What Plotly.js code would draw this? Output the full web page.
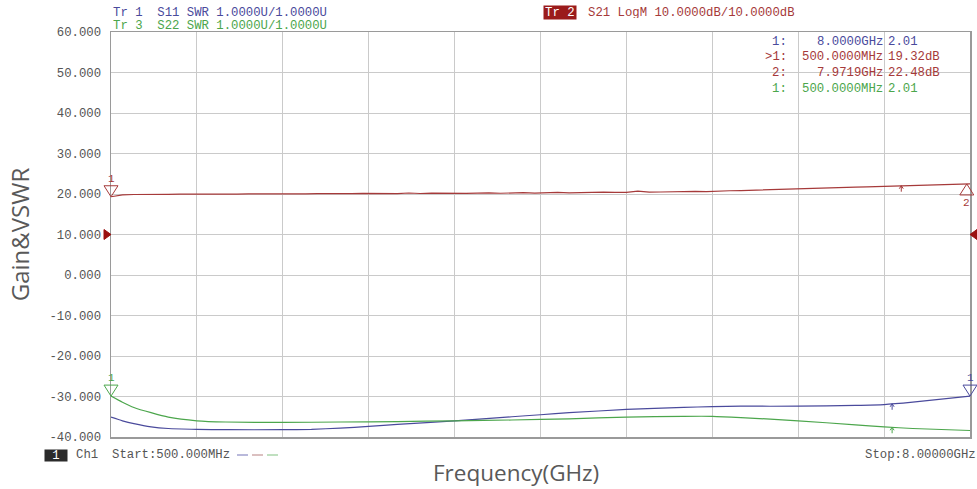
<!DOCTYPE html>
<html>
<head>
<meta charset="utf-8">
<script src="https://cdn.plot.ly/plotly-3.0.1.min.js"></script>
<style>html,body{margin:0;padding:0;background:#fff;}#chart{width:977px;height:489px;}</style>
</head>
<body>
<div id="chart"></div>
<script>
// ---------- data ----------
const freqS21 = [0.5,0.6,0.7,0.8,0.9,1.0,1.1,1.2,1.3,1.4,1.5,1.6,1.7,1.8,1.9,2.0,2.1,2.2,2.3,2.4,2.5,2.6,2.7,2.8,2.9,3.0,3.1,3.2,3.3,3.4,3.5,3.6,3.7,3.8,3.9,4.0,4.1,4.2,4.3,4.4,4.5,4.6,4.7,4.8,4.9,5.0,5.1,5.2,5.3,5.4,5.5,5.6,5.7,5.8,5.9,6.0,6.1,6.2,6.3,6.4,6.5,6.6,6.7,6.8,6.9,7.0,7.1,7.2,7.3,7.4,7.5,7.6,7.7,7.8,7.9,8.0];
const gainS21 = [19.32,19.80,19.88,19.85,19.92,19.90,19.95,19.93,19.98,19.95,
                 20.00,19.97,20.02,20.00,20.05,20.02,20.08,20.05,20.10,20.06,
                 20.12,20.08,20.15,20.10,20.22,20.10,20.25,20.12,20.20,20.15,
                 20.28,20.14,20.22,20.30,20.18,20.25,20.35,20.22,20.30,20.40,
                 20.28,20.36,20.32,20.45,20.38,20.42,20.70,20.45,20.50,20.58,
                 20.52,20.65,20.60,20.78,20.80,20.85,20.95,20.98,21.08,21.12,
                 21.22,21.28,21.40,21.48,21.60,21.68,21.75,21.82,21.92,22.05,
                 22.10,22.25,22.30,22.38,22.42,22.48];
const freqS11 = [0.5,0.6,0.7,0.85,1.0,1.25,1.5,2.0,2.25,2.5,2.75,3.0,3.5,4.0,4.25,4.5,5.0,5.5,5.75,6.0,6.5,7.0,7.25,7.5,8.0];
const swrS11  = [1.49,1.40,1.33,1.25,1.21,1.19,1.18,1.18,1.19,1.22,1.26,1.31,1.40,1.50,1.55,1.60,1.68,1.73,1.75,1.76,1.76,1.78,1.80,1.86,2.01];
const freqS22 = [0.5,0.6,0.7,0.85,1.0,1.25,1.5,2.0,2.5,3.0,3.5,4.0,4.5,5.0,5.5,5.75,6.0,6.5,7.0,7.25,7.5,8.0];
const swrS22  = [2.01,1.86,1.73,1.60,1.49,1.40,1.37,1.36,1.37,1.38,1.40,1.42,1.45,1.49,1.51,1.51,1.48,1.40,1.30,1.25,1.21,1.16];

const yTickVals = [60,50,40,30,20,10,0,-10,-20,-30,-40];
const yTickText = ["60.000","50.000","40.000","30.000","20.000","10.000","0.000","-10.000","-20.000","-30.000","-40.000"];

// markers
const mkS21_1 = {f:0.5, v:19.32};
const mkS21_2 = {f:7.9719, v:22.48};
const mkS11_1 = {f:8.0, v:2.01};
const mkS22_1 = {f:0.5, v:2.01};
const tickS21 = {f:7.40, v:22.05};
const tickS11 = {f:7.32, v:1.82};
const tickS22 = {f:7.32, v:1.24};
const refLevel = 10;

// axis ranges
const xRange = [0.5, 8.0];
const yRange = [-40, 60];
const y2Range = [1, 11];

// ---------- styles ----------
const RED = '#a63a3a', BLUE = '#4a4a9c', GREEN = '#4ca64c';
const MONO = 'Liberation Mono, DejaVu Sans Mono, monospace';
const NB = '\u00a0';

// paper coordinate helpers (plot area: x 111..970, y 32..437)
const PX = p => (p - 111) / 859;
const PY = p => (437 - p) / 405;
const FX = f => (f - xRange[0]) / (xRange[1] - xRange[0]);

const traces = [
  {x: freqS21, y: gainS21, type:'scatter', mode:'lines', line:{color:RED, width:1.2}, yaxis:'y', hoverinfo:'skip'},
  {x: freqS11, y: swrS11, type:'scatter', mode:'lines', line:{color:BLUE, width:1.2, shape:'spline', smoothing:0.6}, yaxis:'y2', hoverinfo:'skip'},
  {x: freqS22, y: swrS22, type:'scatter', mode:'lines', line:{color:GREEN, width:1.2, shape:'spline', smoothing:0.6}, yaxis:'y2', hoverinfo:'skip'}
];

function mk(m, yref, color, path, fill){
  return {type:'path', xref:'paper', yref:yref, xsizemode:'pixel', ysizemode:'pixel',
    xanchor:FX(m.f), yanchor:m.v, path:path,
    line:{color:color, width:1}, fillcolor:fill||'rgba(0,0,0,0)', layer:'above'};
}
const DOWN = 'M -7,11 L 7,11 L 0,0 Z';
const UP = 'M -7,-11 L 7,-11 L 0,0 Z';
const ARROW = 'M 0,0 L 0,-6 M -2,-3 L 0,0 L 2,-3';

const shapes = [
  mk(mkS21_1, 'y', RED, DOWN),
  mk(mkS21_2, 'y', RED, UP),
  mk(mkS22_1, 'y2', GREEN, DOWN),
  mk(mkS11_1, 'y2', BLUE, DOWN),
  mk(tickS21, 'y', RED, ARROW),
  mk(tickS11, 'y2', BLUE, ARROW),
  mk(tickS22, 'y2', GREEN, ARROW),
  // reference level arrows
  {type:'path', xref:'paper', yref:'y', xsizemode:'pixel', ysizemode:'pixel', xanchor:0, yanchor:refLevel,
   path:'M -7,5 L -7,-5 L 0,0 Z', line:{color:'#9b1010', width:1}, fillcolor:'#9b1010', layer:'above'},
  {type:'path', xref:'paper', yref:'y', xsizemode:'pixel', ysizemode:'pixel', xanchor:1, yanchor:refLevel,
   path:'M 7,5 L 7,-5 L 0,0 Z', line:{color:'#9b1010', width:1}, fillcolor:'#9b1010', layer:'above'},
  // legend dashes in status bar
  {type:'line', xref:'paper', yref:'paper', x0:PX(237), x1:PX(248), y0:PY(455), y1:PY(455), line:{color:'#8a8ac4', width:1.2}},
  {type:'line', xref:'paper', yref:'paper', x0:PX(252), x1:PX(263), y0:PY(455), y1:PY(455), line:{color:'#c49696', width:1.2}},
  {type:'line', xref:'paper', yref:'paper', x0:PX(267), x1:PX(278), y0:PY(455), y1:PY(455), line:{color:'#96cc96', width:1.2}}
];

function txt(text, x, y, color, xanchor, extra){
  return Object.assign({text:text, xref:'paper', yref:'paper', x:x, y:y, xanchor:xanchor||'left', yanchor:'middle',
    showarrow:false, font:{family:MONO, size:12.3, color:color}, borderpad:0}, extra||{});
}

const annotations = [
  txt('Tr'+NB+'1'+NB+NB+'S11'+NB+'SWR'+NB+'1.0000U/1.0000U', PX(112), PY(13), BLUE, 'left', {height:11}),
  txt('Tr'+NB+'3'+NB+NB+'S22'+NB+'SWR'+NB+'1.0000U/1.0000U', PX(112), PY(25), GREEN, 'left', {height:11}),
  txt('Tr'+NB+'2', PX(543), PY(13), '#ffffff', 'left', {bgcolor:'#9b1b1b', borderpad:1, height:11}),
  txt('S21'+NB+'LogM'+NB+'10.0000dB/10.0000dB', PX(587), PY(13), RED, 'left', {height:11}),
  // marker table
  txt('1:', PX(788), PY(41.5), BLUE, 'right'),
  txt('8.0000GHz', PX(884), PY(41.5), BLUE, 'right'),
  txt('2.01', PX(887), PY(41.5), BLUE, 'left'),
  txt('>1:', PX(788), PY(57), RED, 'right'),
  txt('500.0000MHz', PX(884), PY(57), RED, 'right'),
  txt('19.32dB', PX(887), PY(57), RED, 'left'),
  txt('2:', PX(788), PY(72.5), RED, 'right'),
  txt('7.9719GHz', PX(884), PY(72.5), RED, 'right'),
  txt('22.48dB', PX(887), PY(72.5), RED, 'left'),
  txt('1:', PX(788), PY(89), GREEN, 'right'),
  txt('500.0000MHz', PX(884), PY(89), GREEN, 'right'),
  txt('2.01', PX(887), PY(89), GREEN, 'left'),
  // marker labels
  {text:'1', x:mkS21_1.f, y:mkS21_1.v, xref:'x', yref:'y', yshift:18, showarrow:false, font:{family:MONO, size:11, color:RED}},
  {text:'2', x:mkS21_2.f, y:mkS21_2.v, xref:'x', yref:'y', yshift:-19, showarrow:false, font:{family:MONO, size:11, color:RED}},
  {text:'1', x:mkS22_1.f, y:mkS22_1.v, xref:'x', yref:'y2', yshift:18, showarrow:false, font:{family:MONO, size:11, color:GREEN}},
  {text:'1', x:mkS11_1.f, y:mkS11_1.v, xref:'x', yref:'y2', yshift:18, showarrow:false, font:{family:MONO, size:11, color:BLUE}},
  // status bar
  txt('1', PX(55.5), PY(455), '#ffffff', 'center', {bgcolor:'#2b2b2b', width:22, height:11, borderpad:0}),
  txt('Ch1', PX(74.5), PY(455), '#555555', 'left'),
  txt('Start:500.000MHz', PX(111), PY(455), '#555555', 'left'),
  txt('Stop:8.00000GHz', PX(977), PY(455), '#555555', 'right'),
  // x axis title
  {text:'Frequency(GHz)', xref:'paper', yref:'paper', x:PX(516), y:PY(473), xanchor:'center', yanchor:'middle',
   showarrow:false, font:{family:'Open Sans, sans-serif', size:22.5, color:'#595959'}, borderpad:0}
];

const layout = {
  width:977, height:489,
  margin:{l:111, r:7, t:32, b:52, pad:0},
  paper_bgcolor:'#ffffff', plot_bgcolor:'#ffffff',
  showlegend:false,
  xaxis:{
    range:xRange, tick0:0.5, dtick:0.75, showticklabels:false, ticks:'',
    showgrid:true, gridcolor:'#cacaca', gridwidth:1, zeroline:false,
    showline:true, mirror:true, linecolor:'#9a9a9a', linewidth:1.5
  },
  yaxis:{
    range:yRange, tickvals:yTickVals, ticktext:yTickText, ticks:'',
    tickfont:{family:MONO, size:12.3, color:'#555555'}, ticklabelstandoff:6,
    showgrid:true, gridcolor:'#cacaca', gridwidth:1, zeroline:false,
    showline:true, mirror:true, linecolor:'#9a9a9a', linewidth:1.5,
    title:{text:'Gain&VSWR', font:{family:'Open Sans, sans-serif', size:24, color:'#595959'}, standoff:13}
  },
  yaxis2:{
    range:y2Range, overlaying:'y', side:'right', visible:false, showgrid:false, zeroline:false
  },
  shapes:shapes,
  annotations:annotations
};

Plotly.newPlot('chart', traces, layout, {displayModeBar:false, staticPlot:true});
</script>
</body>
</html>
